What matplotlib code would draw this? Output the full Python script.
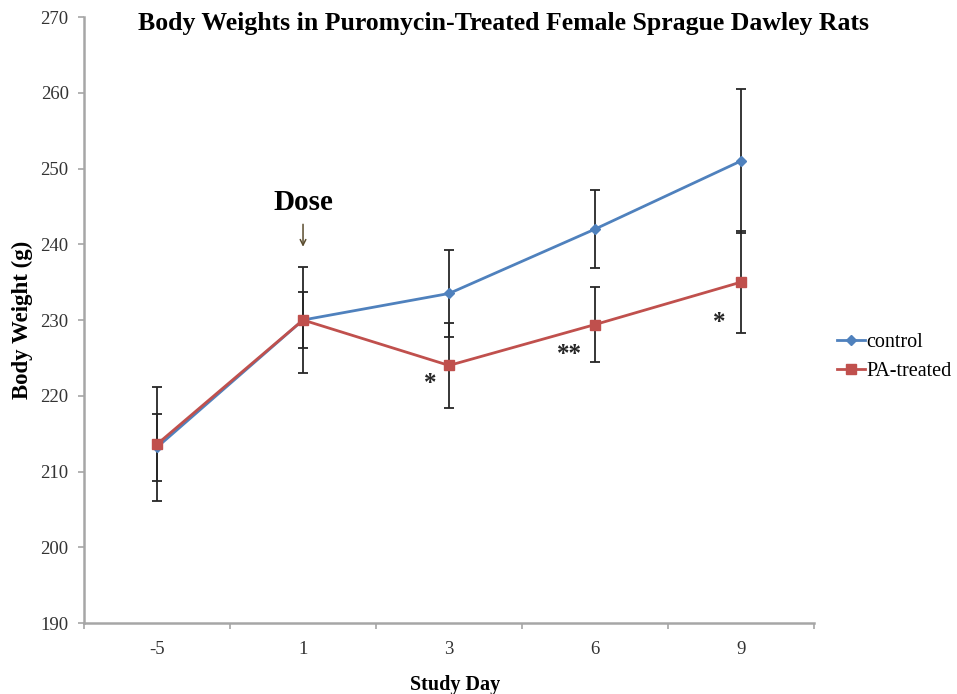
import numpy as np
import matplotlib
matplotlib.use("Agg")
import matplotlib.pyplot as plt

# data
days = ["-5", "1", "3", "6", "9"]
control = [213.2, 230.0, 233.5, 242.0, 251.0]
control_err = [4.4, 3.7, 5.7, 5.1, 9.5]
treated = [213.6, 230.0, 224.0, 229.4, 235.0]
treated_err = [7.5, 7.0, 5.6, 5.0, 6.7]
stars = ["", "", "*", "**", "*"]

blue = "#4F81BD"
red = "#C0504D"
grey = "#A6A6A6"

plt.rcParams['font.family'] = ['Liberation Serif', 'DejaVu Serif']

fig = plt.figure(figsize=(9.57, 6.94), dpi=100)
ax = fig.add_axes([0.0878, 0.1023, 0.7628, 0.8732])

x = np.arange(len(days))

ax.errorbar(x, control, yerr=control_err, fmt='none', ecolor='#262626',
            elinewidth=1.3, capsize=3.5, capthick=1.3, zorder=2)
ax.errorbar(x, treated, yerr=treated_err, fmt='none', ecolor='#262626',
            elinewidth=1.3, capsize=3.5, capthick=1.3, zorder=2)
ax.plot(x, control, color=blue, lw=2.0, marker='D', ms=5, label='control', zorder=3)
ax.plot(x, treated, color=red, lw=2.0, marker='s', ms=7.5, label='PA-treated', zorder=4)

# significance marks (offset in pixels from the treated point)
star_offsets = {2: (-19, -25), 3: (-26, -36), 4: (-22, -47)}
for i, s in enumerate(stars):
    if s:
        dx, dy = star_offsets[i]
        ax.annotate(s, xy=(x[i], treated[i]), xytext=(dx, dy), textcoords='offset pixels',
                    ha='center', va='baseline', fontsize=18, fontweight='bold', color='#262626')

ax.set_xlim(-0.5, len(days) - 0.5)
ax.set_ylim(190, 270)
ax.set_yticks(np.arange(190, 271, 10))
ax.set_xticks(x)
ax.set_xticklabels(days)
ax.set_xticks(np.arange(-0.5, len(days)), minor=True)
ax.tick_params(axis='x', which='major', length=0, pad=13, labelsize=13.5, colors='#333333')
ax.tick_params(axis='x', which='minor', length=4, color=grey, width=1.2)
ax.tick_params(axis='y', length=4, color=grey, width=1.2, pad=7, labelsize=13.5, labelcolor='#333333')

for side in ['top', 'right']:
    ax.spines[side].set_visible(False)
for side in ['left', 'bottom']:
    ax.spines[side].set_color(grey)
    ax.spines[side].set_linewidth(1.8)

ax.set_xlabel('Study Day', fontsize=14.5, fontweight='bold')
ax.xaxis.set_label_coords(0.508, -0.085)
ax.set_ylabel('Body Weight (g)', fontsize=16.5, fontweight='bold')
ax.yaxis.set_label_coords(-0.070, 0.5)

fig.text(0.526, 0.966, 'Body Weights in Puromycin-Treated Female Sprague Dawley Rats',
         ha='center', va='center', fontsize=18.5, fontweight='bold')

# dose annotation
ax.text(1, 244.5, 'Dose', ha='center', va='baseline', fontsize=21, fontweight='bold')
ax.annotate('', xy=(1, 239.3), xytext=(1, 243.0),
            arrowprops=dict(arrowstyle='->', color='#5a4c2e', lw=1.1))

ax.legend(loc='center left', bbox_to_anchor=(1.0315, 0.439), frameon=False,
          fontsize=14.5, handlelength=1.4, handletextpad=0.05, labelspacing=0.45,
          borderaxespad=0, borderpad=0)

fig.savefig('out.png', dpi=100)
